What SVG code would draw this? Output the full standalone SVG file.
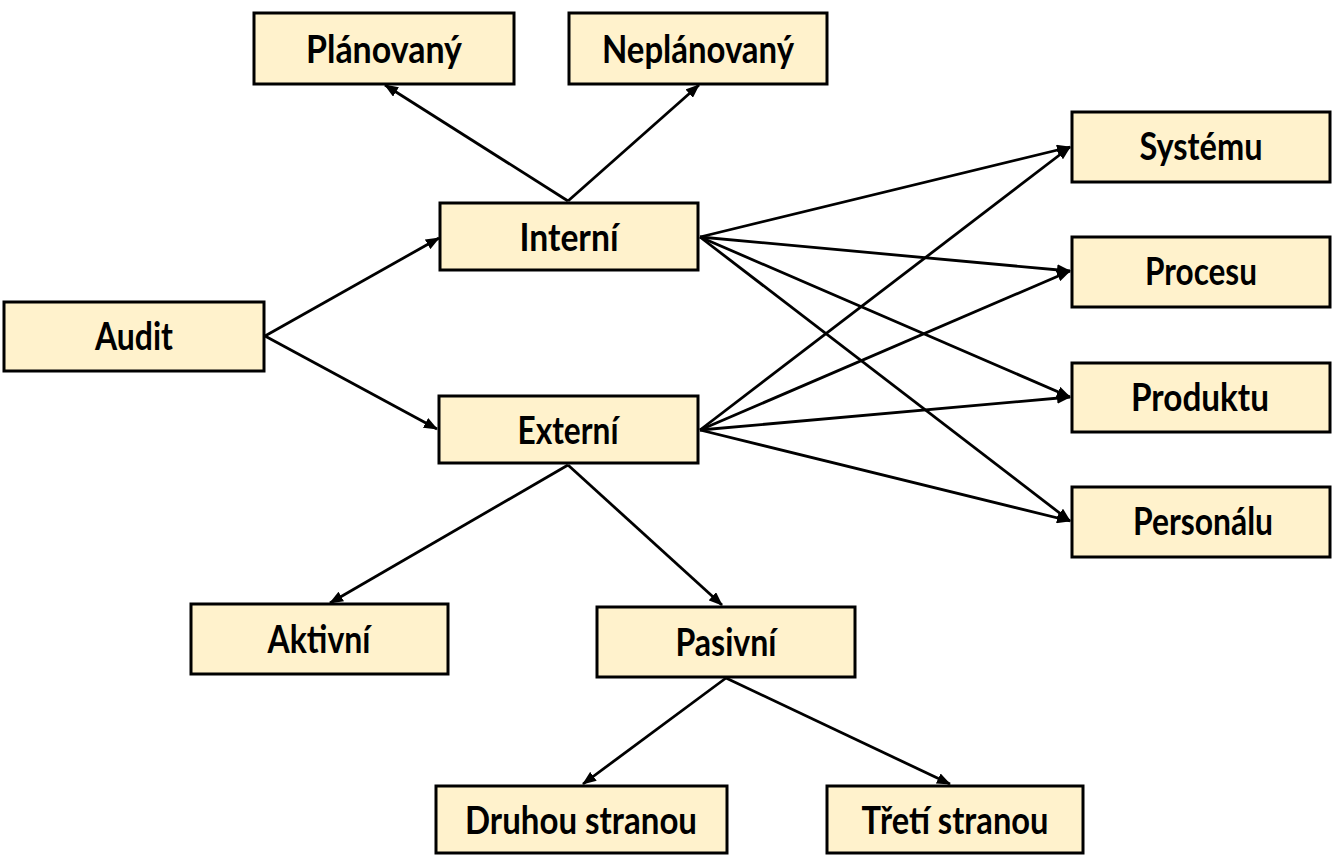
<svg xmlns="http://www.w3.org/2000/svg" width="1337" height="857" viewBox="0 0 1337 857">
<defs>
<style>
.box{fill:#FFF2CC;stroke:#000;stroke-width:3}
.lbl{font-family:Lato,"Open Sans",sans-serif;font-weight:bold;font-size:39px;fill:#000;text-anchor:middle}
.c{stroke:#000;stroke-width:2.8;fill:none;marker-end:url(#ah)}
</style>
<marker id="ah" viewBox="0 0 14 11" refX="13" refY="5.5" markerWidth="14" markerHeight="11" markerUnits="userSpaceOnUse" orient="auto">
<path d="M0,0 L14,5.5 L0,11 Z" fill="#000"/>
</marker>
</defs>
<rect width="1337" height="857" fill="#fff"/>
<g id="connectors">
<line class="c" x1="265" y1="336" x2="439" y2="238"/>
<line class="c" x1="265" y1="336" x2="437" y2="429"/>
<line class="c" x1="568" y1="201" x2="385" y2="85"/>
<line class="c" x1="568" y1="201" x2="699" y2="85"/>
<line class="c" x1="700" y1="237" x2="1070" y2="147"/>
<line class="c" x1="700" y1="237" x2="1070" y2="271"/>
<line class="c" x1="700" y1="237" x2="1070" y2="397"/>
<line class="c" x1="700" y1="237" x2="1070" y2="521"/>
<line class="c" x1="700" y1="430" x2="1070" y2="147"/>
<line class="c" x1="700" y1="430" x2="1070" y2="271"/>
<line class="c" x1="700" y1="430" x2="1070" y2="397"/>
<line class="c" x1="700" y1="430" x2="1070" y2="521"/>
<line class="c" x1="568" y1="465" x2="330" y2="603"/>
<line class="c" x1="568" y1="465" x2="722" y2="605"/>
<line class="c" x1="726" y1="678" x2="583" y2="784"/>
<line class="c" x1="726" y1="678" x2="950" y2="784"/>
</g>
<g id="planovany"><rect class="box" x="254" y="13" width="260" height="71"/><text class="lbl" x="384" y="63" textLength="156" lengthAdjust="spacingAndGlyphs">Plánovaný</text></g>
<g id="neplanovany"><rect class="box" x="569" y="13" width="258" height="71"/><text class="lbl" x="698" y="63" textLength="192" lengthAdjust="spacingAndGlyphs">Neplánovaný</text></g>
<g id="interni"><rect class="box" x="440" y="203" width="258" height="67"/><text class="lbl" x="569" y="251" textLength="99" lengthAdjust="spacingAndGlyphs">Interní</text></g>
<g id="audit"><rect class="box" x="4" y="302" width="260" height="69"/><text class="lbl" x="134" y="350" textLength="78" lengthAdjust="spacingAndGlyphs">Audit</text></g>
<g id="externi"><rect class="box" x="439" y="396" width="259" height="67"/><text class="lbl" x="568" y="444" textLength="101" lengthAdjust="spacingAndGlyphs">Externí</text></g>
<g id="aktivni"><rect class="box" x="191" y="604" width="257" height="70"/><text class="lbl" x="319" y="653" textLength="103" lengthAdjust="spacingAndGlyphs">Aktivní</text></g>
<g id="pasivni"><rect class="box" x="597" y="607" width="258" height="70"/><text class="lbl" x="726" y="656" textLength="101" lengthAdjust="spacingAndGlyphs">Pasivní</text></g>
<g id="druhou"><rect class="box" x="436" y="786" width="291" height="67"/><text class="lbl" x="581" y="834" textLength="232" lengthAdjust="spacingAndGlyphs">Druhou stranou</text></g>
<g id="treti"><rect class="box" x="827" y="786" width="256" height="67"/><text class="lbl" x="955" y="834" textLength="187" lengthAdjust="spacingAndGlyphs">Třetí stranou</text></g>
<g id="systemu"><rect class="box" x="1072" y="112" width="258" height="70"/><text class="lbl" x="1201" y="160" textLength="123" lengthAdjust="spacingAndGlyphs">Systému</text></g>
<g id="procesu"><rect class="box" x="1072" y="237" width="258" height="70"/><text class="lbl" x="1201" y="285" textLength="112" lengthAdjust="spacingAndGlyphs">Procesu</text></g>
<g id="produktu"><rect class="box" x="1072" y="363" width="258" height="69"/><text class="lbl" x="1200" y="411" textLength="138" lengthAdjust="spacingAndGlyphs">Produktu</text></g>
<g id="personalu"><rect class="box" x="1072" y="487" width="258" height="70"/><text class="lbl" x="1203" y="535" textLength="140" lengthAdjust="spacingAndGlyphs">Personálu</text></g>
</svg>
